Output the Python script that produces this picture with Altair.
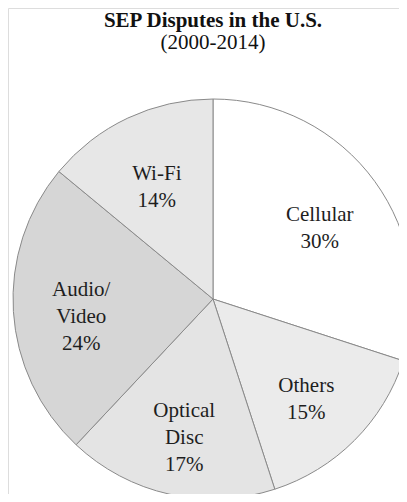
import math
import altair as alt
import pandas as pd

categories = ["Cellular", "Others", "Optical Disc", "Audio/Video", "Wi-Fi"]
labels = ["Cellular\n30%", "Others\n15%", "Optical\nDisc\n17%", "Audio/\nVideo\n24%", "Wi-Fi\n14%"]
values = [30, 15, 17, 24, 14]
fills = ["#ffffff", "#ebebeb", "#e4e4e4", "#d6d6d6", "#e7e7e7"]

df = pd.DataFrame({
    "cat": categories,
    "label": labels,
    "value": values,
    "order": list(range(len(values))),
    "nlines": [s.count("\n") + 1 for s in labels],
})

CX, CY, R = 205, 291, 200
SERIF = "Liberation Serif, Times New Roman, serif"
TOTAL = sum(values)
theta_scale = alt.Scale(domain=[0, TOTAL], range=[0, 2 * math.pi])

pie = alt.Chart(df).mark_arc(outerRadius=R, stroke="#8a8a8a", strokeWidth=1).encode(
    theta=alt.Theta("value:Q", stack=True),
    order=alt.Order("order:Q"),
    x=alt.value(CX), y=alt.value(CY),
    color=alt.Color("cat:N", scale=alt.Scale(domain=categories, range=fills), legend=None),
)

LH = 27
DY = {2: -6, 3: -17}


def label_layer(n):
    return alt.Chart(df).transform_window(
        cum="sum(value)", sort=[alt.SortField("order")]
    ).transform_calculate(
        mid="datum.cum - datum.value / 2"
    ).transform_filter(
        f"datum.nlines == {n}"
    ).mark_text(
        radius=132, font=SERIF, fontSize=21, color="#1e1e1e",
        lineBreak="\n", lineHeight=LH, baseline="middle", align="center",
        dy=DY[n],
    ).encode(
        theta=alt.Theta("mid:Q", scale=theta_scale, stack=None),
        x=alt.value(CX), y=alt.value(CY),
        text="label:N",
    )


text2 = label_layer(2)
text3 = label_layer(3)

title_df = pd.DataFrame({"t": ["SEP Disputes in the U.S."]})
sub_df = pd.DataFrame({"t": ["(2000-2014)"]})
title = alt.Chart(title_df).mark_text(font=SERIF, fontSize=21, fontWeight="bold",
                                      color="#111", baseline="alphabetic").encode(
    x=alt.value(205), y=alt.value(19), text="t:N")
sub = alt.Chart(sub_df).mark_text(font=SERIF, fontSize=21,
                                  color="#111", baseline="alphabetic").encode(
    x=alt.value(205), y=alt.value(41), text="t:N")

chart = alt.layer(pie, text2, text3, title, sub).properties(
    width=391, height=486, padding=0, autosize=alt.AutoSizeParams(type="none")
).resolve_scale(theta="independent").configure_view(stroke=None).configure(background="white")

chart.save("out.html", embed_options={"renderer": "svg", "actions": False})
